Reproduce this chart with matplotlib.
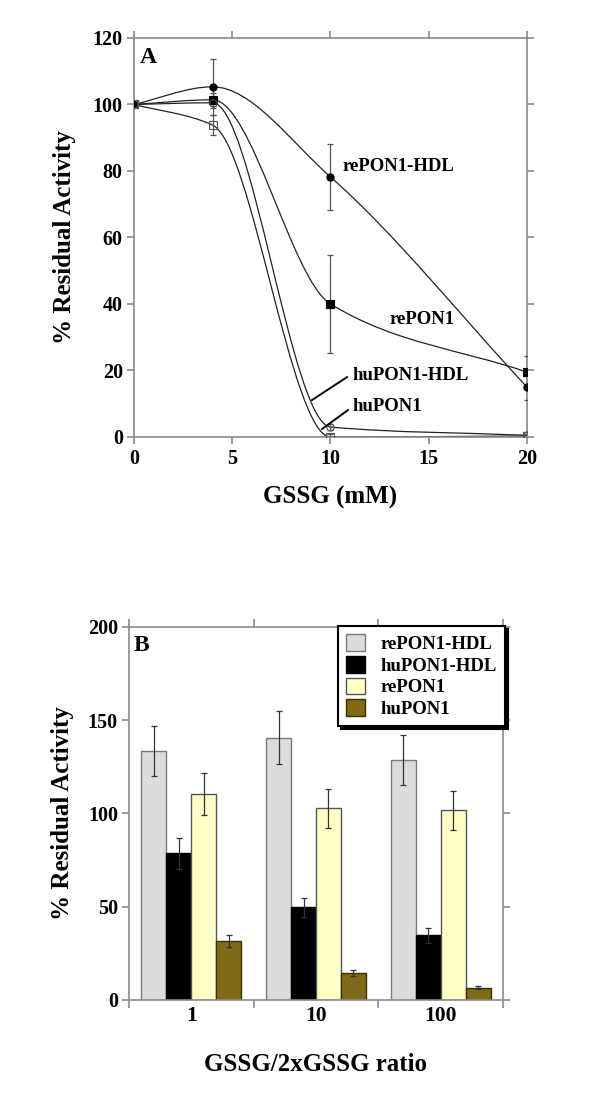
import numpy as np
import matplotlib
matplotlib.use('Agg')
from matplotlib import pyplot as plt
from matplotlib.path import Path
from matplotlib.patches import PathPatch

plt.rcParams['font.family'] = ['Liberation Serif', 'DejaVu Serif']
plt.rcParams['font.weight'] = 'bold'

# panel A data
gssg = [0, 4, 10, 20]
re_hdl = [100, 105.3, 78.2, 15.0]
re_hdl_err = [np.nan, 8.5, 9.8, 4.0]
re_pon = [100, 101.4, 40.0, 19.5]
re_pon_err = [np.nan, 2.0, 14.6, 5.0]
hu_hdl = [100, 100.5, 3.0, 0.5]
hu_hdl_err = [np.nan, 1.5, 1.0, 1.0]
hu_pon = [100, 93.8, 0.0, 0.3]
hu_pon_err = [np.nan, 3.0, 1.0, 0.5]

# panel B data
ratios = ['1', '10', '100']
b_names = ['rePON1-HDL', 'huPON1-HDL', 'rePON1', 'huPON1']
b_vals = [[133.6, 140.7, 128.6],
          [78.6, 49.6, 34.6],
          [110.5, 102.7, 101.6],
          [31.8, 14.6, 6.6]]
b_errs = [[13.4, 14.0, 13.2],
          [8.2, 5.2, 3.8],
          [11.3, 10.5, 10.4],
          [3.2, 1.5, 0.9]]
b_colors = ['#dcdcde', '#000000', '#ffffc6', '#806a18']
b_edges = ['#7a7a7a', '#000000', '#555555', '#3a3000']

spine_col = '#8a8a8a'


def smooth_path(x, y):
    # monotone cubic (pchip style) tangents, drawn as bezier segments
    x = np.asarray(x, float)
    y = np.asarray(y, float)
    h = np.diff(x)
    d = np.diff(y) / h
    m = np.zeros(len(x))
    m[0] = d[0]
    m[-1] = d[-1]
    for k in range(1, len(x) - 1):
        if d[k - 1] * d[k] <= 0:
            m[k] = 0
        else:
            w1 = 2 * h[k] + h[k - 1]
            w2 = h[k] + 2 * h[k - 1]
            m[k] = (w1 + w2) / (w1 / d[k - 1] + w2 / d[k])
    verts = [(x[0], y[0])]
    codes = [Path.MOVETO]
    for k in range(len(x) - 1):
        verts += [(x[k] + h[k] / 3, y[k] + m[k] * h[k] / 3),
                  (x[k + 1] - h[k] / 3, y[k + 1] - m[k + 1] * h[k] / 3),
                  (x[k + 1], y[k + 1])]
        codes += [Path.CURVE4] * 3
    return Path(verts, codes)


def style_axes(ax):
    for s in ax.spines.values():
        s.set_color(spine_col)
        s.set_linewidth(1.2)
    ax.tick_params(which='both', direction='out', color=spine_col, width=1.2,
                   top=True, right=True, labelsize=14.5, pad=3)
    ax.tick_params(which='major', length=5)
    ax.tick_params(axis='x', which='both', labeltop=False)
    ax.tick_params(axis='y', which='both', labelright=False)


fig = plt.figure(figsize=(6, 10.93), dpi=100)

# ---------------- panel A
ax = fig.add_axes([0.2233, 0.6002, 0.655, 0.3651])
series = [(re_hdl, re_hdl_err, 'o', 'k'),
          (re_pon, re_pon_err, 's', 'k'),
          (hu_hdl, hu_hdl_err, 'o', 'none'),
          (hu_pon, hu_pon_err, 's', 'none')]
for vals, errs, mk, fc in series:
    ax.add_patch(PathPatch(smooth_path(gssg, vals), fill=False,
                           edgecolor='#222222', lw=0.9, zorder=2))
    ax.errorbar(gssg, vals, yerr=errs, fmt='none', ecolor='#555555',
                elinewidth=0.9, capsize=2.5, capthick=0.9, zorder=3)
    ax.plot(gssg, vals, linestyle='none', marker=mk, ms=5.2,
            markerfacecolor=fc, markeredgecolor='k' if fc == 'k' else '#555555',
            markeredgewidth=0.8, zorder=4)

ax.set_xlim(0, 20)
ax.set_ylim(0, 120)
ax.set_xticks([0, 5, 10, 15, 20])
ax.set_yticks([0, 20, 40, 60, 80, 100, 120])
style_axes(ax)
ax.tick_params(axis='x', pad=4)
ax.set_xlabel('GSSG (mM)', fontsize=18, fontweight='bold', labelpad=12)
ax.set_ylabel('% Residual Activity', fontsize=18, fontweight='bold', labelpad=12)

ax.text(0.3, 114, 'A', fontsize=17, fontweight='bold', va='center', ha='left')
ax.text(10.6, 81.2, 'rePON1-HDL', fontsize=13.5, fontweight='bold', va='center')
ax.text(13.0, 35.2, 'rePON1', fontsize=13.5, fontweight='bold', va='center')
ax.text(11.1, 18.6, 'huPON1-HDL', fontsize=13.5, fontweight='bold', va='center')
ax.text(11.1, 9.3, 'huPON1', fontsize=13.5, fontweight='bold', va='center')
ax.plot([10.84, 9.06], [18.0, 11.1], color='k', lw=1.4, zorder=5)
ax.plot([10.89, 9.57], [8.1, 2.4], color='k', lw=1.4, zorder=5)

# ---------------- panel B
bx = fig.add_axes([0.215, 0.0851, 0.6233, 0.3413])
pos = np.arange(len(ratios))
w = 0.2
for i in range(len(b_names)):
    bx.bar(pos - 0.3 + i * w, b_vals[i], width=w, color=b_colors[i],
           edgecolor=b_edges[i], linewidth=1.0, label=b_names[i], zorder=2)
    bx.errorbar(pos - 0.3 + i * w, b_vals[i], yerr=b_errs[i], fmt='none',
                ecolor='#333333', elinewidth=0.9, capsize=2.5, capthick=0.9,
                zorder=3)

bx.set_xlim(-0.5, 2.5)
bx.set_ylim(0, 200)
bx.set_yticks([0, 50, 100, 150, 200])
bx.set_xticks(pos)
bx.set_xticklabels(ratios)
bx.set_xticks([-0.5, 0.5, 1.5, 2.5], minor=True)
style_axes(bx)
bx.tick_params(axis='x', which='major', length=0, labelsize=15.5, pad=4)
bx.tick_params(axis='x', which='minor', length=6)
bx.set_xlabel('GSSG/2xGSSG ratio', fontsize=18, fontweight='bold', labelpad=20)
bx.set_ylabel('% Residual Activity', fontsize=18, fontweight='bold', labelpad=10)
bx.text(-0.46, 190, 'B', fontsize=17, fontweight='bold', va='center', ha='left')

leg = bx.legend(loc='upper right', bbox_to_anchor=(1.005, 1.003), fontsize=13.5,
                frameon=True, fancybox=False,
                shadow={'color': 'black', 'alpha': 1},
                edgecolor='black', framealpha=1, borderpad=0.45,
                handlelength=1.0, handleheight=1.0, handletextpad=0.8,
                labelspacing=0.15, borderaxespad=0)
leg.get_frame().set_linewidth(1.5)
for t in leg.get_texts():
    t.set_fontweight('bold')

plt.savefig('out.png', dpi=100)
